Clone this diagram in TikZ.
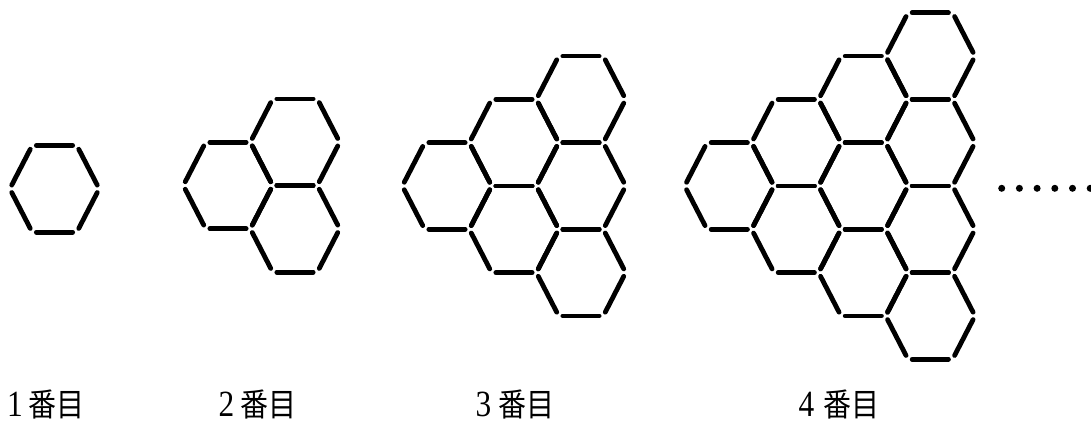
\documentclass[tikz,border=0pt]{standalone}
\usepackage{fontspec}
\setmainfont{Liberation Serif}
\newfontfamily\cjk{Noto Sans CJK JP}
\tikzset{
  stick/.style={line width=4.8pt, line cap=round, shorten <=4.2pt, shorten >=4.2pt},
  dotmark/.style={fill=black, draw=none},
  numlabel/.style={anchor=base, inner sep=0pt, font=\fontsize{33}{33}\selectfont},
  kanjilabel/.style={anchor=base west, inner sep=0pt, font=\cjk\fontsize{28}{28}\selectfont},
}
\newcommand\hexcell[2]{%
  \foreach \i in {0,...,5}{%
    \draw[stick] ({#1+44.67*cos(60*\i)},{#2+50*sin(60*\i)}) -- ({#1+44.67*cos(60*(\i+1))},{#2+50*sin(60*(\i+1))});
  }%
}
\newcommand\hexfigure[3]{% n, cx, cy of left column
  \foreach \k in {1,...,#1}{%
    \foreach \j in {1,...,\k}{%
      \hexcell{#2+67*(\k-1)}{#3-43.3*(\k-1)+86.6*(\j-1)}
    }%
  }%
}
\begin{document}
\begin{tikzpicture}[x=1pt,y=-1pt]
  \useasboundingbox (0,0) rectangle (1091,423);
  \clip (0,0) rectangle (1091,423);
  \hexfigure{1}{54.5}{188.8}
  \hexfigure{2}{228}{185.5}
  \hexfigure{3}{447}{186}
  \hexfigure{4}{729.3}{186}
  \foreach \k in {0,...,5}{%
    \fill[dotmark] (1001.7+17.7*\k,188.3) circle (3.5);
  }
  \node[numlabel] (n1) at (15,416) {\scalebox{0.95}[1.12]{1}};
  \node[kanjilabel] (k1) at (28.5,416.5) {\scalebox{1}[1.15]{番目}};
  \node[numlabel] (n2) at (226.5,416) {\scalebox{0.95}[1.12]{2}};
  \node[kanjilabel] (k2) at (240.5,416.5) {\scalebox{1}[1.15]{番目}};
  \node[numlabel] (n3) at (483.5,416) {\scalebox{0.95}[1.12]{3}};
  \node[kanjilabel] (k3) at (498.5,416.5) {\scalebox{1}[1.15]{番目}};
  \node[numlabel] (n4) at (806.5,416) {\scalebox{0.95}[1.12]{4}};
  \node[kanjilabel] (k4) at (823.5,416.5) {\scalebox{1}[1.15]{番目}};
\end{tikzpicture}
\end{document}
